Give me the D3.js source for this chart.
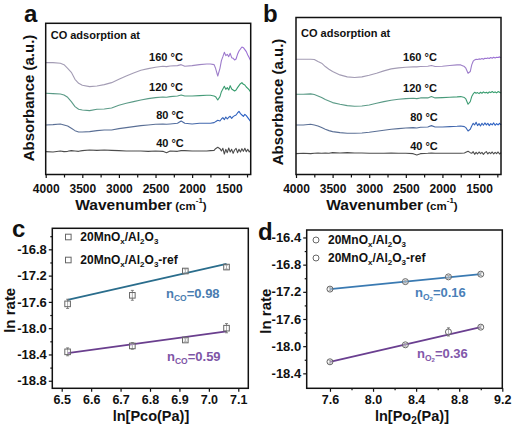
<!DOCTYPE html>
<html><head><meta charset="utf-8">
<script src="https://cdn.jsdelivr.net/npm/d3@7"></script>
<style>
body{margin:0;background:#fff}
svg{display:block}
text{font-family:"Liberation Sans",Arial,Helvetica,sans-serif;font-weight:bold;fill:#111}
</style>
</head><body>
<svg id="chart" width="521" height="425"></svg>
<script>
// ---------- DATA ----------
const wavenumbers = [4000,3900,3800,3750,3700,3650,3600,3550,3500,3400,3300,3200,3100,3000,2900,2800,2700,2600,2500,2400,2350,2300,2200,2150,2100,2000,1900,1800,1750,1700,1680,1650,1620,1600,1580,1560,1540,1520,1500,1480,1460,1440,1420,1400,1380,1360,1340,1320,1300,1280,1260,1240,1220,1200];
const temperatureLabels = ["40 °C","80 °C","120 °C","160 °C"];
const spectraTicks = [4000,3500,3000,2500,2000,1500];

// Panel a: absorbance (a.u.)
const absA40  = [0.70,0.69,0.72,0.70,0.71,0.73,0.72,0.71,0.73,0.75,0.74,0.75,0.74,0.73,0.72,0.72,0.72,0.71,0.72,0.71,0.67,0.72,0.71,0.73,0.73,0.72,0.72,0.72,0.73,0.74,0.79,0.83,0.79,0.72,0.80,0.63,0.77,0.67,0.81,0.69,0.77,0.65,0.75,0.80,0.67,0.77,0.69,0.79,0.71,0.80,0.70,0.77,0.69,0.75];
const absA80  = [1.50,1.51,1.53,1.50,1.47,1.40,1.33,1.29,1.29,1.30,1.33,1.35,1.35,1.39,1.42,1.45,1.48,1.50,1.52,1.53,1.52,1.53,1.55,1.62,1.55,1.53,1.55,1.55,1.55,1.57,1.60,1.64,1.62,1.68,1.72,1.66,1.74,1.68,1.73,1.76,1.70,1.75,1.78,1.80,1.86,1.91,1.84,1.80,1.76,1.82,1.78,1.72,1.66,1.60];
const absA120 = [2.45,2.44,2.43,2.40,2.33,2.20,2.05,1.97,1.95,1.93,1.97,1.98,2.01,2.09,2.15,2.20,2.25,2.29,2.32,2.34,2.33,2.35,2.37,2.40,2.37,2.37,2.38,2.39,2.39,2.37,2.35,2.25,2.35,2.50,2.58,2.66,2.57,2.62,2.55,2.68,2.58,2.55,2.52,2.55,2.62,2.68,2.74,2.77,2.72,2.70,2.64,2.60,2.55,2.48];
const absA160 = [3.37,3.37,3.35,3.31,3.20,3.08,2.87,2.75,2.69,2.65,2.67,2.71,2.77,2.87,2.97,3.06,3.14,3.19,3.23,3.26,3.25,3.27,3.28,3.31,3.26,3.28,3.31,3.33,3.33,3.31,3.20,2.97,3.20,3.43,3.55,3.68,3.58,3.62,3.55,3.65,3.52,3.50,3.45,3.48,3.62,3.72,3.78,3.84,3.82,3.76,3.70,3.60,3.52,3.43];

// Panel b: absorbance (a.u.)
const absB40  = [0.61,0.62,0.61,0.62,0.63,0.62,0.63,0.62,0.64,0.63,0.64,0.63,0.63,0.62,0.62,0.62,0.63,0.62,0.62,0.61,0.57,0.61,0.62,0.63,0.62,0.62,0.62,0.62,0.62,0.63,0.65,0.68,0.64,0.62,0.67,0.59,0.65,0.60,0.66,0.61,0.65,0.59,0.64,0.67,0.60,0.65,0.61,0.66,0.60,0.65,0.61,0.66,0.60,0.64];
const absB80  = [1.47,1.47,1.49,1.47,1.44,1.39,1.34,1.30,1.27,1.24,1.22,1.22,1.23,1.25,1.28,1.31,1.34,1.36,1.38,1.39,1.38,1.40,1.41,1.45,1.41,1.41,1.42,1.43,1.44,1.42,1.39,1.29,1.34,1.44,1.52,1.47,1.55,1.45,1.51,1.44,1.52,1.46,1.53,1.47,1.52,1.45,1.51,1.47,1.53,1.46,1.51,1.47,1.52,1.47];
const absB120 = [2.39,2.39,2.40,2.38,2.34,2.29,2.23,2.19,2.14,2.09,2.05,2.03,2.04,2.07,2.12,2.17,2.21,2.24,2.26,2.27,2.26,2.28,2.28,2.32,2.28,2.29,2.30,2.31,2.32,2.29,2.25,2.09,2.17,2.32,2.40,2.45,2.42,2.44,2.41,2.45,2.42,2.46,2.43,2.45,2.42,2.46,2.44,2.47,2.44,2.46,2.43,2.47,2.45,2.43];
const absB160 = [3.44,3.44,3.44,3.43,3.37,3.32,3.22,3.14,3.07,2.97,2.91,2.89,2.91,2.96,3.02,3.09,3.15,3.18,3.20,3.21,3.21,3.22,3.23,3.25,3.22,3.23,3.25,3.27,3.27,3.22,3.17,3.02,3.07,3.27,3.38,3.42,3.44,3.43,3.45,3.44,3.46,3.44,3.47,3.46,3.48,3.46,3.49,3.47,3.50,3.48,3.50,3.49,3.51,3.48];

// Panel c: ln rate vs ln P(CO)
const lnPco = [6.52,6.74,6.92,7.06];
const rateCoMain = [-17.63,-17.50,-17.13,-17.07];
const errCoMain  = [0.07,0.075,0.03,0.03];
const rateCoRef  = [-18.36,-18.27,-18.18,-18.00];
const errCoRef   = [0.06,0.05,0.02,0.07];
const fitCoMain  = [[6.52,-17.57],[7.06,-17.02]];
const fitCoRef   = [[6.52,-18.38],[7.06,-18.05]];
const nCo = ["0.98","0.59"];
const pcoTicks = [6.5,6.6,6.7,6.8,6.9,7.0,7.1];
const rateTicksC = [-16.8,-17.2,-17.6,-18.0,-18.4,-18.8];

// Panel d: ln rate vs ln P(O2)
const lnPo2 = [7.60,8.30,8.70,9.00];
const rateO2Main = [-17.16,-17.05,-16.98,-16.94];
const errO2Main  = [0.02,0.02,0.02,0.02];
const rateO2Ref  = [-18.23,-17.98,-17.79,-17.72];
const errO2Ref   = [0.02,0.02,0.06,0.02];
const fitO2Main  = [[7.60,-17.16],[9.00,-16.94]];
const fitO2Ref   = [[7.60,-18.23],[9.00,-17.72]];
const nO2 = ["0.16","0.36"];
const po2Ticks = [7.6,8.0,8.4,8.8,9.2];
const rateTicksD = [-16.4,-16.8,-17.2,-17.6,-18.0,-18.4];

const legendNames = ["20MnO|x|/Al|2|O|3|", "20MnO|x|/Al|2|O|3|-ref"];

// ---------- DRAWING ----------
const svg = d3.select("#chart");
const defs = svg.append("defs");
const FRAME = "#111";

function grad(id, x0, x1, c0, c1){
  const g = defs.append("linearGradient").attr("id", id)
    .attr("gradientUnits","userSpaceOnUse").attr("x1",x0).attr("x2",x1).attr("y1",0).attr("y2",0);
  g.append("stop").attr("offset","0%").attr("stop-color",c0);
  g.append("stop").attr("offset","55%").attr("stop-color",c0);
  g.append("stop").attr("offset","100%").attr("stop-color",c1);
}

function styleAxis(g, fs){
  g.select(".domain").remove();
  g.selectAll(".tick line").attr("stroke",FRAME).attr("stroke-width",1.2);
  g.selectAll(".tick text").attr("font-size",fs).attr("font-family","Liberation Sans, Arial, sans-serif")
    .attr("font-weight","bold").attr("fill","#111");
}

function richText(sel, spec, bigSize, smallSize){
  const parts = spec.split("|");
  parts.forEach((p,i)=>{
    if(!p) return;
    const sub = i % 2 === 1;
    sel.append("tspan").text(p).attr("font-size", sub ? smallSize : bigSize)
      .attr("dy", sub ? 3 : (i>0 ? -3 : 0));
  });
}

function spectraPanel(o){
  const x = d3.scaleLinear().domain([4000,1200]).range([o.left,o.right]);
  const y = d3.scaleLinear().domain([0,o.yMax]).range([o.zeroY,o.top]);
  const colors = [
    ["#4d4d4d","#4d4d4d"],
    ["#5a6f95","#2860c8"],
    ["#5a9a86","#2e9c68"],
    ["#a39cb4","#9a6cd6"]
  ];
  o.series.forEach((s,i)=>{
    const id = o.id+"g"+i;
    grad(id, o.left, o.right, colors[i][0], colors[i][1]);
    svg.append("path")
      .datum(s)
      .attr("fill","none").attr("stroke","url(#"+id+")").attr("stroke-width",1.1)
      .attr("stroke-linejoin","round")
      .attr("d", d3.line().x((d,j)=>x(wavenumbers[j])).y(d=>y(d)));
  });
  svg.append("rect").attr("x",o.left).attr("y",o.top).attr("width",o.right-o.left).attr("height",o.bottom-o.top)
    .attr("fill","none").attr("stroke",FRAME).attr("stroke-width",1.5);
  const minor = d3.range(3750,1200,-500);
  const gm = svg.append("g").attr("transform",`translate(0,${o.bottom})`)
    .call(d3.axisBottom(x).tickValues(minor).tickSize(3).tickFormat(""));
  styleAxis(gm,12);
  const g = svg.append("g").attr("transform",`translate(0,${o.bottom})`)
    .call(d3.axisBottom(x).tickValues(spectraTicks).tickSize(3.5).tickPadding(6).tickFormat(d=>String(d)));
  styleAxis(g,12);
  const t = svg.append("text").attr("x",o.xTitleX).attr("y",o.bottom+35).attr("text-anchor","middle");
  t.append("tspan").text("Wavenumber").attr("font-size",15.5);
  t.append("tspan").text(" (cm").attr("font-size",11.5);
  t.append("tspan").text("-1").attr("font-size",8).attr("dy",-7);
  t.append("tspan").text(")").attr("font-size",11.5).attr("dy",7);
  svg.append("text").attr("transform",`translate(${o.yTitleX},${o.yTitleY}) rotate(-90)`)
    .attr("text-anchor","middle").attr("font-size",15).text("Absorbance (a.u.)");
  svg.append("text").attr("x",o.left+5).attr("y",o.headY).attr("font-size",11).text("CO adsorption at");
  temperatureLabels.forEach((lab,i)=>{
    svg.append("text").attr("x",o.labelX[i]).attr("y",o.labelY[i]).attr("text-anchor","middle")
      .attr("font-size",11).text(lab);
  });
  svg.append("text").attr("x",o.letterX).attr("y",o.letterY).attr("font-size",24).text(o.letter);
}

spectraPanel({
  id:"a", letter:"a", letterX:24, letterY:22,
  left:45.7, right:250.7, top:23.3, bottom:174.5, zeroY:175, yMax:4.55,
  series:[absA40,absA80,absA120,absA160],
  labelX:[170,170,166,166], labelY:[147,119,91,61], headY:39,
  xTitleX:141, yTitleX:34, yTitleY:98
});
spectraPanel({
  id:"b", letter:"b", letterX:263, letterY:22,
  left:296, right:501, top:17.5, bottom:174.5, zeroY:174, yMax:4.69,
  series:[absB40,absB80,absB120,absB160],
  labelX:[424,424,420,420], labelY:[150,121,92,61], headY:37,
  xTitleX:392, yTitleX:283, yTitleY:102
});

function marker(cx, cy, shape, fill){
  if(shape==="square"){
    svg.append("rect").attr("x",cx-2.8).attr("y",cy-2.8).attr("width",5.6).attr("height",5.6)
      .attr("fill",fill).attr("stroke","#666").attr("stroke-width",1);
  } else {
    svg.append("circle").attr("cx",cx).attr("cy",cy).attr("r",3)
      .attr("fill",fill).attr("stroke","#666").attr("stroke-width",1);
  }
}

function ratePanel(o){
  const x = d3.scaleLinear().domain(o.xDomain).range([o.left,o.right]);
  const y = d3.scaleLinear().domain(o.yDomain).range([o.bottom,o.top]);
  const gx = svg.append("g").attr("transform",`translate(0,${o.bottom})`)
    .call(d3.axisBottom(x).tickValues(o.xTicks).tickSize(3.5).tickPadding(3).tickFormat(d=>d.toFixed(1)));
  styleAxis(gx,12.5);
  if(o.xMinor){
    const gxm = svg.append("g").attr("transform",`translate(0,${o.bottom})`)
      .call(d3.axisBottom(x).tickValues(o.xMinor).tickSize(2).tickFormat(""));
    styleAxis(gxm,12);
  }
  const gy = svg.append("g").attr("transform",`translate(${o.left},0)`)
    .call(d3.axisLeft(y).tickValues(o.yTicks).tickSize(3.5).tickPadding(2).tickFormat(d=>d.toFixed(1)));
  styleAxis(gy,13);
  const gym = svg.append("g").attr("transform",`translate(${o.left},0)`)
    .call(d3.axisLeft(y).tickValues(o.yTicks.map(v=>v+0.2).filter(v=>v<o.yDomain[1])).tickSize(2).tickFormat(""));
  styleAxis(gym,12);
  const sets = [
    {fit:o.fitMain, ys:o.main, err:o.errMain, color:o.colMain},
    {fit:o.fitRef, ys:o.ref, err:o.errRef, color:o.colRef}
  ];
  sets.forEach(s=>{
    svg.append("line").attr("x1",x(s.fit[0][0])).attr("y1",y(s.fit[0][1]))
      .attr("x2",x(s.fit[1][0])).attr("y2",y(s.fit[1][1]))
      .attr("stroke",s.color).attr("stroke-width",1.8);
  });
  sets.forEach(s=>{
    o.xs.forEach((xv,i)=>{
      const cx = x(xv), cy = y(s.ys[i]);
      svg.append("line").attr("x1",cx).attr("x2",cx).attr("y1",y(s.ys[i]-s.err[i])).attr("y2",y(s.ys[i]+s.err[i]))
        .attr("stroke","#777").attr("stroke-width",0.9);
      [-1,1].forEach(k=>svg.append("line").attr("x1",cx-1.5).attr("x2",cx+1.5)
        .attr("y1",y(s.ys[i]+k*s.err[i])).attr("y2",y(s.ys[i]+k*s.err[i])).attr("stroke","#777").attr("stroke-width",0.9));
      marker(cx, cy, o.shape, "rgba(255,255,255,0.35)");
    });
  });
  svg.append("rect").attr("x",o.left).attr("y",o.top).attr("width",o.right-o.left).attr("height",o.bottom-o.top)
    .attr("fill","none").attr("stroke",FRAME).attr("stroke-width",1.5);
  legendNames.forEach((nm,i)=>{
    marker(o.legX, o.legY[i]-4, o.shape, "none");
    const t = svg.append("text").attr("x",o.legX+12).attr("y",o.legY[i]);
    richText(t, nm, 12, 8);
  });
  o.nVals.forEach((v,i)=>{
    const t = svg.append("text").attr("x",o.nX[i]).attr("y",o.nY[i]);
    t.append("tspan").text("n").attr("font-size",13).attr("fill",o.nCol[i]);
    t.append("tspan").text(o.nSub).attr("font-size",8.5).attr("dy",3).attr("fill",o.nCol[i]);
    if(o.nSub2) t.append("tspan").text(o.nSub2).attr("font-size",6).attr("dy",1).attr("fill",o.nCol[i]);
    t.append("tspan").text("="+v).attr("font-size",13).attr("dy",o.nSub2?-4:-3).attr("fill",o.nCol[i]);
  });
  svg.append("text").attr("transform",`translate(${o.yTitleX},${(o.top+o.bottom)/2+2}) rotate(-90)`)
    .attr("text-anchor","middle").attr("font-size",15).text("ln rate");
  const xt = svg.append("text").attr("x",o.xTitleX).attr("y",420.5).attr("text-anchor","middle").attr("font-size",14.5);
  o.xTitle(xt);
  svg.append("text").attr("x",o.letterX).attr("y",o.letterY).attr("font-size",24).text(o.letter);
}

ratePanel({
  letter:"c", letterX:12, letterY:237,
  left:52.3, right:248.3, top:228.3, bottom:388.3,
  xDomain:[6.468,7.134], yDomain:[-18.915,-16.48],
  xTicks:pcoTicks, yTicks:rateTicksC, xMinor:null,
  xs:lnPco, main:rateCoMain, errMain:errCoMain, ref:rateCoRef, errRef:errCoRef,
  fitMain:fitCoMain, fitRef:fitCoRef, colMain:"#2a6d8c", colRef:"#6a3f8e",
  shape:"square", legX:68.3, legY:[241,264],
  nVals:nCo, nSub:"CO", nSub2:null, nX:[166,167], nY:[298,361], nCol:["#4a7db0","#7e55a6"],
  yTitleX:15, xTitleX:151,
  xTitle:t=>{ t.text("ln[Pco(Pa)]"); }
});
ratePanel({
  letter:"d", letterX:258, letterY:240,
  left:306.7, right:502.3, top:230, bottom:388.3,
  xDomain:[7.384,9.2], yDomain:[-18.62,-16.29],
  xTicks:po2Ticks, yTicks:rateTicksD, xMinor:[7.8,8.2,8.6,9.0],
  xs:lnPo2, main:rateO2Main, errMain:errO2Main, ref:rateO2Ref, errRef:errO2Ref,
  fitMain:fitO2Main, fitRef:fitO2Ref, colMain:"#3a7ab2", colRef:"#6a3f90",
  shape:"circle", legX:316, legY:[244,262],
  nVals:nO2, nSub:"O", nSub2:"2", nX:[415,417], nY:[297,358], nCol:["#4a80b8","#8258aa"],
  yTitleX:271, xTitleX:412,
  xTitle:t=>{ t.append("tspan").text("ln[Po"); t.append("tspan").text("2").attr("font-size",10).attr("dy",3);
              t.append("tspan").text("(Pa)]").attr("dy",-3); }
});
</script>
</body></html>
